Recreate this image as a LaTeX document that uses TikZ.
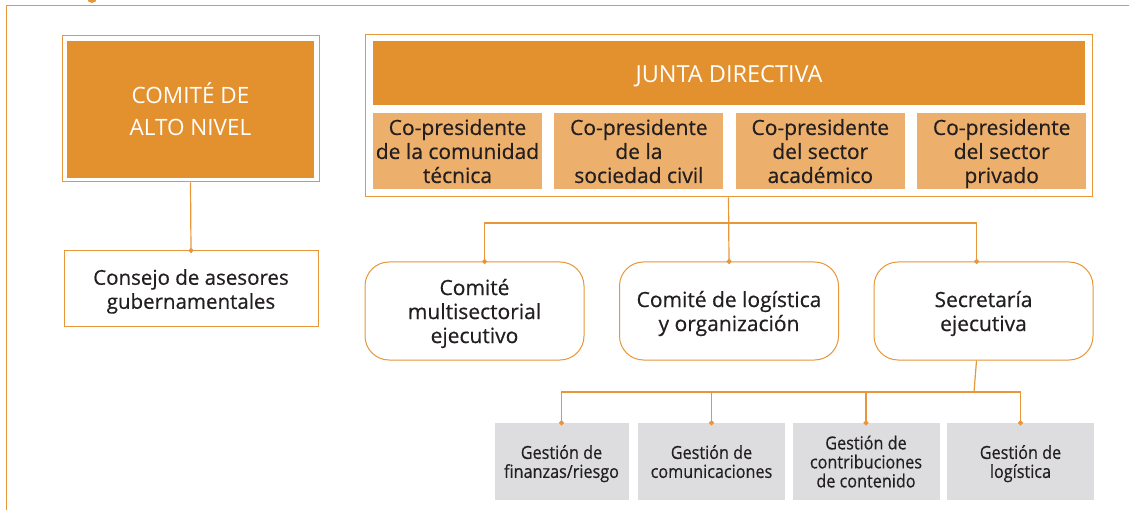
\documentclass[tikz,border=0pt]{standalone}
\usepackage{fontspec}
\setmainfont{Open Sans}
\newfontfamily\inkfont[FakeBold=0.5]{Open Sans}
\newfontfamily\condfont[FakeStretch=0.9, FakeBold=0.5]{Open Sans}
\usepackage{tikz}
\usetikzlibrary{positioning, arrows.meta}
\definecolor{deeporange}{HTML}{E3912F}
\definecolor{paleorange}{HTML}{EDB06C}
\definecolor{lineorange}{HTML}{E8963A}
\definecolor{boxgray}{HTML}{DDDDDF}
\definecolor{inkgray}{HTML}{231F20}
\tikzset{
x=1pt, y=-1pt, % one unit is one pixel of the chart
every node/.style={inner sep=0pt, align=center, text=inkgray, text depth=0pt,
  execute at begin node=\strut, execute at end node=\strut}, % plain centred text, even line heights
link/.style={draw=lineorange, line width=1.2pt}, % connector lines
dot/.style={link, -{Circle[length=5pt]}, shorten >=-2.5pt}, % dot where a line meets a box
frame/.style={draw=lineorange, line width=1pt, fill=white}, % thin orange outline
head/.style={fill=deeporange, text=white}, % dark orange title boxes
copres/.style={fill=paleorange, minimum width=169pt, minimum height=76pt, font=\inkfont\fontsize{21}{24}\selectfont}, % co-presidents
unit/.style={frame, rounded corners=24pt, minimum width=219pt, minimum height=98pt, font=\inkfont\fontsize{21}{24}\selectfont}, % committees
gest/.style={fill=boxgray, minimum width=147pt, minimum height=77pt, font=\condfont\fontsize{18}{19}\selectfont}, % management units
}
\begin{document}
\begin{tikzpicture}
    \useasboundingbox (0,0) rectangle (1129,510);
    % page frame
    \fill[lineorange] (92,-2) circle (5);
    \draw[lineorange, line width=1.2pt] (6.5,510) -- (6.5,5.5) -- (1129,5.5);

    % left column
    \node[frame, minimum width=257pt, minimum height=146pt] (altoframe) at (190.5,109) {};
    \node[head, minimum width=247pt, minimum height=137pt, font=\fontsize{22.5}{32}\selectfont] (alto) at (190.5,109.5) {COMITÉ DE\\ALTO NIVEL};
    \node[frame, minimum width=254pt, minimum height=76pt, font=\inkfont\fontsize{20.5}{24}\selectfont] (consejo) at (191,289) {Consejo de asesores\\gubernamentales};

    % board
    \node[frame, minimum width=727pt, minimum height=162pt] (junta) at (728.5,116) {};
    \node[head, minimum width=712pt, minimum height=64pt, font=\fontsize{23.5}{28}\selectfont] (jd) at (729,73) {JUNTA DIRECTIVA};
    \node[copres] (cp1) at (457.5,151) {Co-presidente\\de la comunidad\\técnica};
    \node[copres, right=12pt of cp1] (cp2) {Co-presidente\\de la\\sociedad civil};
    \node[copres, right=12pt of cp2] (cp3) {Co-presidente\\del sector\\académico};
    \node[copres, right=12pt of cp3] (cp4) {Co-presidente\\del sector\\privado};

    % committees
    \node[unit] (multi) at (474.5,311) {Comité\\multisectorial\\ejecutivo};
    \node[unit, right=34.5pt of multi] (logis) {Comité de logística\\y organización};
    \node[unit, right=34.5pt of logis] (secre) {Secretaría\\ejecutiva};

    % management units
    \node[gest, minimum width=134pt] (g1) at (561.5,461.5) {Gestión de\\finanzas/riesgo};
    \node[gest] (g2) at (711.5,461.5) {Gestión de\\comunicaciones};
    \node[gest] (g3) at (866,461.5) {Gestión de\\contribuciones\\de contenido};
    \node[gest] (g4) at (1020.5,461.5) {Gestión de\\logística};

    % connectors
    \coordinate (jbus) at (728.5,223);
    \coordinate (sbus) at (974,392);
    \draw[dot] (altoframe.south) -- (consejo.north);
    \draw[dot] (junta.south) -- (logis.north);
    \draw[dot] (jbus) -| ([xshift=10pt]multi.north);
    \draw[dot] (jbus) -| ([xshift=-7pt]secre.north);
    \draw[link] ([xshift=-7pt]secre.south) -- (sbus);
    \draw[dot] (sbus) -| (g1.north);
    \draw[dot] (sbus) -| (g2.north);
    \draw[dot] (sbus) -| (g3.north);
    \draw[dot] (sbus) -| (g4.north);
\end{tikzpicture}
\end{document}
